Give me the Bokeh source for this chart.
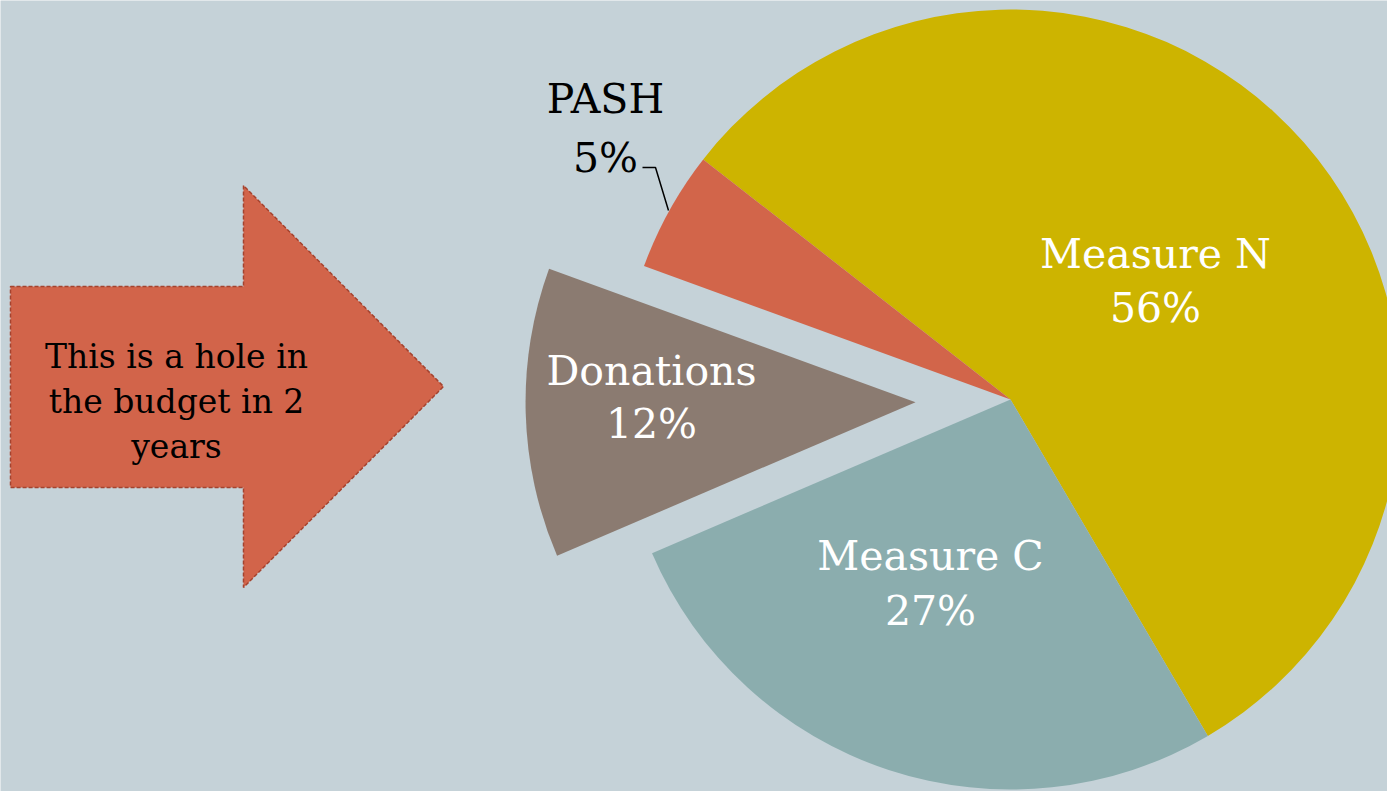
import numpy as np
import pandas as pd
from bokeh.plotting import figure
from bokeh.models import Range1d, ColumnDataSource
from bokeh.core.properties import value
from bokeh.embed import file_html
from bokeh.resources import INLINE

# ---- data ----
categories = ["Measure N", "Measure C", "Donations", "PASH"]
shares = [56, 27, 12, 5]
slice_colors = ["#CDB400", "#8BADAE", "#8B7B71", "#D2654A"]
label_colors = ["white", "white", "white", "black"]
explode_px = [0, 0, 95, 0]
arrow_lines = ["This is a hole in", "the budget in 2", "years"]

W, H = 1387, 791
BG = "#C5D2D8"
FONT = value("DejaVu Serif")

def Y(sy):
    return H - sy

p = figure(width=W, height=H, x_range=Range1d(0, W), y_range=Range1d(0, H),
           output_backend="svg", toolbar_location=None,
           x_axis_type=None, y_axis_type=None, min_border=0)
p.grid.visible = False
p.outline_line_color = None
p.background_fill_color = BG
p.border_fill_color = BG

# ---- pie ----
cx, cy, r = 1010, Y(399), 390
start0 = 142.0
vals = np.array(shares, dtype=float)
deg = vals / vals.sum() * 360.0
cum = np.concatenate([[0], np.cumsum(deg)[:-1]])
start = np.radians(start0 - cum)
end = np.radians(start0 - cum - deg)
mid = (start + end) / 2
ex = np.array(explode_px, dtype=float)
df = pd.DataFrame(dict(cat=categories, share=shares, color=slice_colors,
                       start=start, end=end,
                       x=cx + ex * np.cos(mid), y=cy + ex * np.sin(mid)))
p.wedge(x="x", y="y", radius=r, start_angle="start", end_angle="end",
        direction="clock", fill_color="color", line_color=None,
        source=ColumnDataSource(df))

# ---- slice labels ----
label_pos = [(1155, 253, 307), (930, 555, 610), (651, 370, 423), (605, 98, 157)]
lx, ly, lt, lc = [], [], [], []
for (x, b1, b2), name, s, c in zip(label_pos, categories, shares, label_colors):
    lx += [x, x]; ly += [Y(b1), Y(b2)]
    lt += [name, f"{s}%"]; lc += [c, c]
p.text(x=lx, y=ly, text=lt, text_color=lc, text_font=FONT,
       text_font_size="41px", text_align="center", text_baseline="alphabetic")

# leader line for PASH
p.line(x=[642, 655, 668], y=[Y(167), Y(167), Y(210)], line_color="black", line_width=1.5)

# ---- block arrow ----
ax = [10, 243, 243, 443, 243, 243, 10]
ay = [Y(286), Y(286), Y(185), Y(386), Y(587), Y(487), Y(487)]
p.patch(x=ax, y=ay, fill_color="#D2644A", line_color="#A4432F",
        line_width=1.5, line_dash="4 2")
p.text(x=[176] * 3, y=[Y(356), Y(401), Y(446)], text=arrow_lines,
       text_color="black", text_font=FONT, text_font_size="33px",
       text_align="center", text_baseline="alphabetic")

open("out.html", "w").write(file_html(p, INLINE))
